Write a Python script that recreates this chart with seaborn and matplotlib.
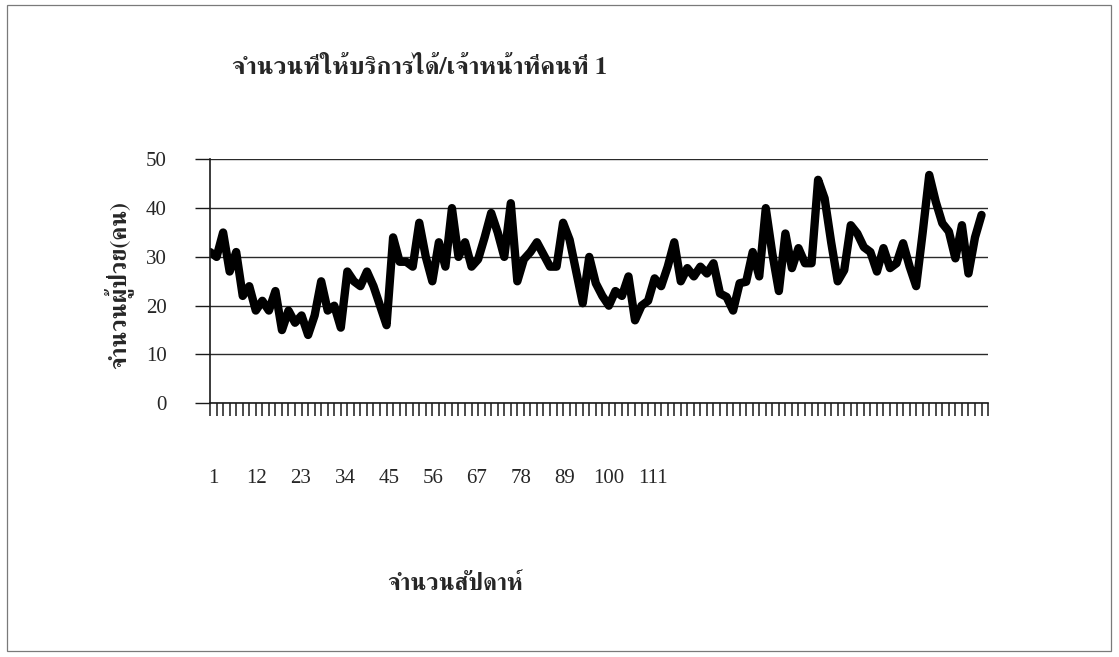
import numpy as np
import pandas as pd
import matplotlib
matplotlib.use("Agg")
import matplotlib.pyplot as plt
import seaborn as sns
from matplotlib import font_manager
from matplotlib.ft2font import FT2Font
from matplotlib.patches import Rectangle

# Weekly number of cases handled by staff member no. 1
weeks = list(range(1, 120))
cases = [
    31, 30, 35, 27, 31, 22, 24, 19, 21, 19,
    23, 15, 19, 16.5, 18, 14, 18, 25, 19, 20,
    15.5, 27, 25, 24, 27, 24, 20, 16, 34, 29,
    29, 28, 37, 30, 25, 33, 28, 40, 30, 33,
    28, 29.5, 34, 39, 35, 30, 41, 25, 29.5, 31,
    33, 30.5, 28, 28, 37, 33.5, 27, 20.5, 30, 24.6,
    22, 20, 23, 22, 26, 17, 20, 21, 25.6, 24,
    28, 33, 25, 27.7, 26, 28, 26.6, 28.7, 22.5, 21.8,
    19, 24.6, 24.9, 31, 26, 40, 30.7, 23, 34.8, 27.7,
    31.8, 28.7, 28.7, 45.8, 42, 33, 25, 27.3, 36.5, 34.8,
    32, 31, 27, 31.8, 27.7, 28.7, 32.8, 28, 24, 35,
    46.8, 41.3, 36.9, 35.2, 29.7, 36.5, 26.6, 34, 38.6,
]
week_labels = [1, 12, 23, 34, 45, 56, 67, 78, 89, 100, 111]
y_ticks = [0, 10, 20, 30, 40, 50]

title = "จำนวนที่ให้บริการได้/เจ้าหน้าที่คนที่ 1"
x_title = "จำนวนสัปดาห์"
y_title = "จำนวนผู้ป่วย(คน)"


def thai_family():
    """Pick an installed family that has Thai glyphs."""
    found = []
    for f in font_manager.fontManager.ttflist:
        try:
            cmap = FT2Font(f.fname).get_charmap()
        except Exception:
            continue
        if 0x0E08 in cmap and 0x0E33 in cmap:
            found.append(f.name)
    serif = [n for n in found if "Serif" in n or "Looped" in n]
    if serif:
        return serif[0]
    return found[0] if found else "DejaVu Sans"


sns.set_style("white")
thai = thai_family()
plt.rcParams["font.family"] = [thai, "Liberation Serif", "DejaVu Sans"]
num_font = "Liberation Serif"

df = pd.DataFrame({"week": weeks, "cases": cases})

fig = plt.figure(figsize=(11.19, 6.57), dpi=100)
fig.patch.set_facecolor("white")
fig.patches.append(Rectangle((0.006, 0.009), 0.987, 0.983, transform=fig.transFigure,
                             fill=False, edgecolor="#7a7a7a", linewidth=0.9))

ax = fig.add_axes([0.1877, 0.3862, 0.6953, 0.3713])
sns.lineplot(data=df, x="week", y="cases", ax=ax, color="black",
             linewidth=6, solid_joinstyle="round", solid_capstyle="round")

ax.set_xlim(1, 119.5)
ax.set_ylim(0, 50)
ax.set_yticks(y_ticks)
ax.set_xticks(np.arange(1, 121))
ax.set_xticklabels([])
ax.yaxis.grid(True, color="#2a2a2a", linewidth=1.0)
ax.set_axisbelow(True)
for side in ("top", "right"):
    ax.spines[side].set_visible(False)
for side in ("left", "bottom"):
    ax.spines[side].set_color("#1a1a1a")
    ax.spines[side].set_linewidth(1.2)
ax.tick_params(axis="x", direction="out", length=9, width=1.1, color="#1a1a1a", bottom=True)
ax.tick_params(axis="y", direction="out", length=11, width=1.0, color="#1a1a1a",
               left=True, pad=20, labelsize=15)
for lab in ax.get_yticklabels():
    lab.set_fontfamily(num_font)
ax.set_xlabel("")
ax.set_ylabel("")

# week numbers shown on their own compressed scale under the axis
ratio = 6.57 / 4.02
sec = ax.secondary_xaxis("bottom", functions=(lambda x: 0.254 + (x - 1) * ratio,
                                              lambda v: 1 + (v - 0.254) / ratio))
sec.set_xticks(week_labels)
sec.tick_params(length=0, pad=47, labelsize=15)
sec.spines["bottom"].set_visible(False)
for lab in sec.get_xticklabels():
    lab.set_fontfamily(num_font)

fig.text(420 / 1119, 1 - 68 / 657, title, ha="center", va="center",
         fontsize=18, fontweight="bold")
fig.text(455 / 1119, 1 - 585 / 657, x_title, ha="center", va="center",
         fontsize=17, fontweight="bold")
fig.text(118 / 1119, 1 - 285 / 657, y_title, ha="center", va="center",
         fontsize=17, fontweight="bold", rotation=90)

fig.savefig("out.png", dpi=100, facecolor="white")
